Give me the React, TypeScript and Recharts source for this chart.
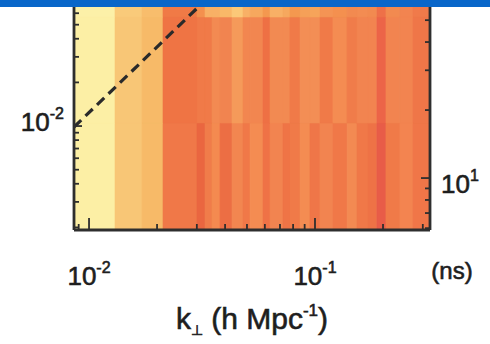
import { ComposedChart, XAxis, YAxis, ReferenceArea, Line, Label } from "recharts";

// k_perp bin edges (h/Mpc)
const kPerpEdges = [
  0.00858, 0.01303, 0.01716, 0.02125, 0.03005, 0.0326, 0.03501, 0.03799, 0.04293,
  0.04801, 0.05158, 0.05886, 0.06322, 0.07217, 0.0775, 0.08584, 0.09504, 0.1052,
  0.1201, 0.1386, 0.1534, 0.1716, 0.188, 0.2061, 0.2377, 0.2715, 0.3228,
];
// k_par bin edges (h/Mpc), bottom to top
const kParEdges = [0.00192, 0.0105, 0.0565, 0.074];

const lowerColors = [
  "#fcefa5", "#f8c676", "#f7ba68", "#f07848", "#ea6640", "#f07c4a", "#f48a50",
  "#ec6e44", "#f28650", "#f07848", "#f48c52", "#ef7246", "#f28450", "#ef7446",
  "#f07a48", "#f48c52", "#ef7648", "#f28450", "#f07848", "#f38a52", "#f07848",
  "#ee7246", "#e85c48", "#f07a48", "#f38450", "#f07648",
];
const upperColors = [
  "#fcefa5", "#f8c676", "#f7ba68", "#ef7444", "#f07a48", "#f07a48", "#f38a52",
  "#f18450", "#f59a5a", "#f28650", "#f28650", "#ee7044", "#f28a52", "#f28a52",
  "#f07a48", "#f38e55", "#f38e55", "#f07a48", "#f48c52", "#f07c4a", "#f28450",
  "#f28450", "#ec6448", "#f28450", "#f28450", "#ef7648",
];
const topColors = [
  "#fcf0a8", "#f9ca7a", "#f8bd6c", "#f07a46", "#f4904e", "#f8b066", "#f8b066",
  "#f9b868", "#fbc878", "#f8b066", "#f6a85e", "#f4984f", "#f8b066", "#f6a85e",
  "#f4984f", "#f5a058", "#f6a45a", "#f49454", "#f4904f", "#f28a50", "#f38c52",
  "#f28a50", "#ee7048", "#f28a50", "#f28450", "#f07a4a",
];
const rowColors = [lowerColors, upperColors, topColors];

// wedge line
const wedgeK = [0.00858, 0.0328];
const wedgeKpar = [0.00984, 0.074];
const lineData = wedgeK.map((k, i) => ({ k, kpar: wedgeKpar[i] }));

const xTicks = [0.009, 0.01, 0.02, 0.03, 0.04, 0.05, 0.06, 0.07, 0.08, 0.09, 0.1, 0.2, 0.3];
const leftTicks = [0.002, 0.003, 0.004, 0.005, 0.006, 0.007, 0.008, 0.009, 0.01, 0.02, 0.03, 0.04, 0.05, 0.06, 0.07];
const rightTicks = [6, 7, 8, 9, 10, 20, 30, 40, 50];

const font = "'Liberation Sans', Arial, Helvetica, sans-serif";
const ink = "#1e1e1e";
const frame = "#2e2e2e";

const isDecade = (v: number) => Math.abs(Math.log10(v) - Math.round(Math.log10(v))) < 1e-6;

const Pow = ({ x, y, exp, anchor }: any) => (
  <text x={x} y={y} textAnchor={anchor} fontFamily={font} fontSize={26} fill={ink} stroke={ink} strokeWidth={0.6}>
    <tspan>10</tspan>
    <tspan dy={-12} fontSize={16}>{exp}</tspan>
  </text>
);

const XTick = (props: any) => {
  const { x, y, payload } = props;
  const major = isDecade(payload.value);
  return (
    <g>
      <line x1={x} x2={x} y1={y} y2={y - (major ? 12 : 6)} stroke={frame} strokeWidth={1.8} />
      {major && <Pow x={x} y={y + 55} exp={String(Math.round(Math.log10(payload.value)))} anchor="middle" />}
    </g>
  );
};

const LeftTick = (props: any) => {
  const { x, y, payload } = props;
  const major = isDecade(payload.value);
  return (
    <g>
      <line x1={x} x2={x + (major ? 8 : 5)} y1={y} y2={y} stroke={frame} strokeWidth={1.8} />
      {major && <Pow x={x - 10} y={y + 5} exp={String(Math.round(Math.log10(payload.value)))} anchor="end" />}
    </g>
  );
};

const RightTick = (props: any) => {
  const { x, y, payload } = props;
  const major = isDecade(payload.value);
  return (
    <g>
      <line x1={x} x2={x - (major ? 9 : 5)} y1={y} y2={y} stroke={frame} strokeWidth={1.8} />
      {major && <Pow x={x + 11} y={y + 15} exp={String(Math.round(Math.log10(payload.value)))} anchor="start" />}
    </g>
  );
};

const AxisTitle = (props: any) => {
  const { x, y, width } = props.viewBox;
  return (
    <g fontFamily={font} fill={ink} stroke={ink} strokeWidth={0.6}>
      <text x={x + width / 2} y={y + 99} textAnchor="middle" fontSize={30}>
        <tspan>k</tspan>
        <tspan dy={6} fontSize={14}>⊥</tspan>
        <tspan dy={-6}> (h Mpc</tspan>
        <tspan dy={-13} fontSize={17}>-1</tspan>
        <tspan dy={13}>)</tspan>
      </text>
      <text x={x + width + 22} y={y + 49} textAnchor="middle" fontSize={24}>
        (ns)
      </text>
    </g>
  );
};

export default function App() {
  return (
    <div style={{ position: "absolute", left: 0, top: 0, width: 490, height: 344, background: "#fff" }}>
      <ComposedChart width={490} height={344} data={lineData} margin={{ top: 0, right: 0, bottom: 0, left: 0 }}>
        <XAxis
          dataKey="k"
          type="number"
          scale="log"
          domain={[kPerpEdges[0], kPerpEdges[kPerpEdges.length - 1]]}
          allowDataOverflow
          ticks={xTicks}
          interval={0}
          height={114}
          tickSize={0}
          tickMargin={0}
          tickLine={false}
          axisLine={{ stroke: frame, strokeWidth: 2.8 }}
          tick={<XTick />}
        >
          <Label content={<AxisTitle />} />
        </XAxis>
        <YAxis
          yAxisId="left"
          type="number"
          scale="log"
          domain={[kParEdges[0], kParEdges[kParEdges.length - 1]]}
          allowDataOverflow
          ticks={leftTicks}
          interval={0}
          width={74}
          tickSize={0}
          tickMargin={0}
          tickLine={false}
          axisLine={{ stroke: frame, strokeWidth: 2.8 }}
          tick={<LeftTick />}
        />
        <YAxis
          yAxisId="right"
          orientation="right"
          type="number"
          scale="log"
          domain={[5.89, 61.4]}
          allowDataOverflow
          ticks={rightTicks}
          interval={0}
          width={60}
          tickSize={0}
          tickMargin={0}
          tickLine={false}
          axisLine={{ stroke: frame, strokeWidth: 2.8 }}
          tick={<RightTick />}
        />
        {rowColors.map((colors, r) =>
          colors.map((c, i) => (
            <ReferenceArea
              key={`cell-${r}-${i}`}
              yAxisId="left"
              x1={kPerpEdges[i]}
              x2={kPerpEdges[i + 1]}
              y1={kParEdges[r]}
              y2={kParEdges[r + 1]}
              fill={c}
              fillOpacity={1}
              stroke={c}
              strokeWidth={0.6}
              ifOverflow="visible"
            />
          ))
        )}
        <Line
          yAxisId="left"
          dataKey="kpar"
          stroke="#2a2a2a"
          strokeWidth={3.2}
          strokeDasharray="10 6"
          dot={false}
          isAnimationActive={false}
        />
      </ComposedChart>
      <div style={{ position: "absolute", left: 0, top: 0, width: 490, height: 7, background: "#0966c9" }} />
    </div>
  );
}
